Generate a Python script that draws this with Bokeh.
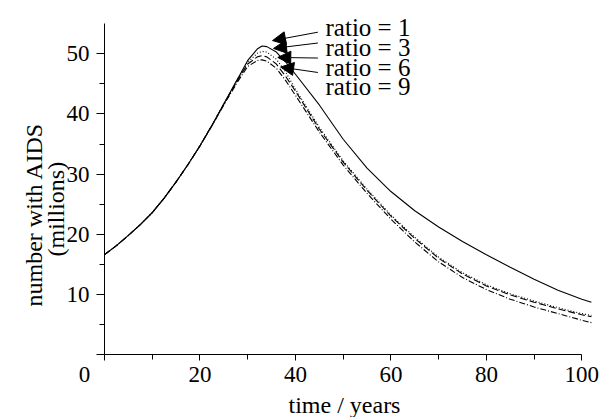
from bokeh.plotting import figure
from bokeh.models import Range1d, FixedTicker, Label, Arrow, NormalHead, Title
from bokeh.embed import file_html
from bokeh.resources import INLINE

# ---- data ----
time_years = [0, 2.5, 5, 7.5, 10, 12.5, 15, 17.5, 20, 22.5, 25, 28, 30, 32, 33, 34, 36, 38,
              40, 45, 50, 55, 60, 65, 70, 75, 80, 85, 90, 95, 100, 102]
ratio_1 = [16.6, 18.1, 19.8, 21.6, 23.6, 26.0, 28.7, 31.6, 34.7, 38.1, 41.7, 46.0, 48.9,
           50.8, 51.3, 51.2, 50.3, 48.6, 46.6, 41.5, 35.8, 31.0, 27.1, 23.9, 21.2, 18.8,
           16.6, 14.5, 12.5, 10.7, 9.2, 8.7]
ratio_3 = [16.6, 18.1, 19.8, 21.6, 23.6, 26.0, 28.7, 31.6, 34.7, 38.1, 41.7, 45.9, 48.6,
           50.1, 50.4, 50.3, 49.1, 46.9, 44.1, 37.8, 32.2, 27.5, 23.2, 19.5, 16.2, 13.6,
           11.6, 10.1, 8.9, 7.8, 6.8, 6.5]
ratio_6 = [16.6, 18.1, 19.8, 21.6, 23.6, 26.0, 28.7, 31.6, 34.7, 38.1, 41.6, 45.8, 48.3,
           49.5, 49.7, 49.5, 48.3, 46.2, 43.8, 37.5, 32.0, 27.3, 23.0, 19.3, 16.0, 13.4,
           11.4, 9.9, 8.7, 7.6, 6.6, 6.3]
ratio_9 = [16.6, 18.1, 19.8, 21.6, 23.6, 26.0, 28.7, 31.6, 34.7, 38.0, 41.5, 45.5, 47.9,
           48.9, 49.0, 48.8, 47.6, 45.5, 43.1, 37.0, 31.5, 26.8, 22.5, 18.7, 15.4, 12.8,
           10.8, 9.2, 7.9, 6.8, 5.7, 5.3]

series_names = ["ratio = 1", "ratio = 3", "ratio = 6", "ratio = 9"]
series_values = [ratio_1, ratio_3, ratio_6, ratio_9]
series_dash = ["solid", "1 2", "7 3", "6 2 1 2"]

x_ticks = [0, 20, 40, 60, 80, 100]
x_minor = [10, 30, 50, 70, 90]
y_ticks = [0, 10, 20, 30, 40, 50]
y_minor = [5, 15, 25, 35, 45]

# annotation placement (label text position, arrow tail, arrow tip) in data units
label_x = [46.3, 46.3, 46.3, 46.3]
label_y = [54.4, 51.1, 47.8, 44.6]
arrow_tail_x = [44.7, 44.7, 44.7, 44.7]
arrow_tail_y = [53.6, 51.8, 49.3, 46.9]
arrow_tip_x = [35.2, 35.4, 36.3, 36.9]
arrow_tip_y = [52.2, 50.9, 49.4, 47.8]

FONT = "Liberation Serif"
NB = "\u00a0"

p = figure(width=615, height=417, x_range=Range1d(0, 106), y_range=Range1d(0, 58.87),
           output_backend="svg", toolbar_location=None,
           min_border_left=104, min_border_right=5, min_border_top=0, min_border_bottom=62)
p.outline_line_color = None
p.grid.visible = False
p.background_fill_color = "white"
p.border_fill_color = "white"

for vals, dash in zip(series_values, series_dash):
    p.line(time_years, vals, line_color="black", line_width=1.1, line_dash=dash)

# axes
xa = p.xaxis[0]
xa.ticker = FixedTicker(ticks=x_ticks, minor_ticks=x_minor)
xa.bounds = (0, 100)
xa.major_label_overrides = {0: "0" + NB * 7}
xa.major_tick_out = 6
xa.major_tick_in = 0
xa.minor_tick_out = 5
xa.minor_tick_in = 0
xa.major_label_standoff = 1
xa.major_label_text_font = FONT
xa.major_label_text_font_size = "23px"
xa.major_label_text_color = "black"
xa.axis_line_color = "black"
xa.major_tick_line_color = "black"
xa.minor_tick_line_color = "black"

ya = p.yaxis[0]
ya.ticker = FixedTicker(ticks=y_ticks, minor_ticks=y_minor)
ya.bounds = (0, 55)
ya.major_label_overrides = {0: ""}
ya.major_tick_out = 8
ya.major_tick_in = 0
ya.minor_tick_out = 5
ya.minor_tick_in = 0
ya.major_label_standoff = 7
ya.major_label_text_font = FONT
ya.major_label_text_font_size = "23px"
ya.major_label_text_color = "black"
ya.axis_line_color = "black"
ya.major_tick_line_color = "black"
ya.minor_tick_line_color = "black"

# axis titles
p.add_layout(Title(text="time / years", align="left", offset=184, standoff=0,
                   text_font=FONT, text_font_size="24px", text_font_style="normal",
                   text_color="black"), "below")
p.add_layout(Title(text="(millions)", align="left", offset=98, standoff=-11,
                   text_font=FONT, text_font_size="24px", text_font_style="normal",
                   text_color="black"), "left")
p.add_layout(Title(text="number with AIDS", align="left", offset=48, standoff=0,
                   text_font=FONT, text_font_size="24px", text_font_style="normal",
                   text_color="black"), "left")

for name, lx, ly, tx, ty, hx, hy in zip(series_names, label_x, label_y, arrow_tail_x,
                                        arrow_tail_y, arrow_tip_x, arrow_tip_y):
    p.add_layout(Label(x=lx, y=ly, text=name, text_align="left", text_baseline="alphabetic",
                       text_font=FONT, text_font_size="25px", text_color="black"))
    p.add_layout(Arrow(end=NormalHead(size=13, fill_color="black", line_color="black"),
                       x_start=tx, y_start=ty, x_end=hx, y_end=hy,
                       line_color="black", line_width=1))

open("out.html", "w").write(file_html(p, INLINE))
